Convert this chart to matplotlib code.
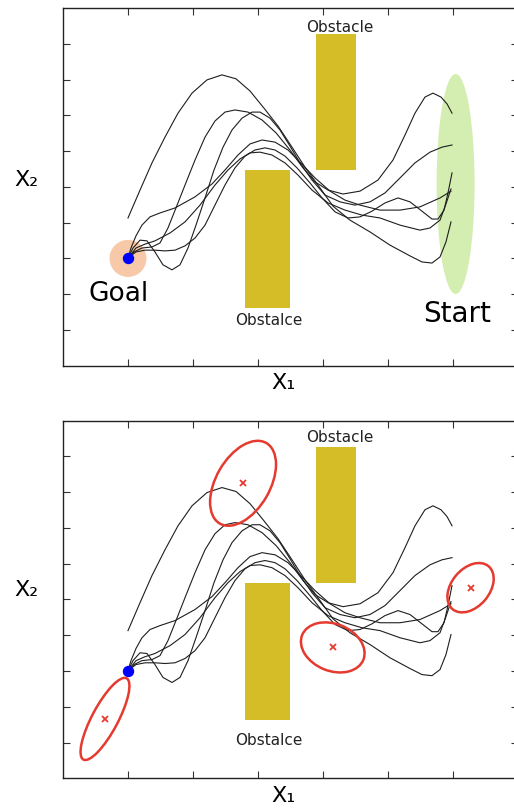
import matplotlib
matplotlib.use("Agg")
import matplotlib.pyplot as plt
from matplotlib.patches import Ellipse, Rectangle
from matplotlib.transforms import ScaledTranslation

# ---- trajectory samples (X1, X2) ----
traj_a_x = [1.0, 1.185, 1.369, 1.569, 1.769, 1.985, 2.215, 2.446, 2.662, 2.877, 3.092, 3.308, 3.523, 3.723,
            3.923, 4.154, 4.415, 4.723, 5.031, 5.338, 5.523, 5.677, 5.8, 5.892, 5.969]
traj_a_y = [4.13, 4.91, 5.67, 6.39, 7.06, 7.62, 7.99, 8.13, 8.02, 7.68, 7.20, 6.70, 6.11, 5.55,
            5.05, 4.46, 4.07, 3.74, 3.37, 3.07, 2.90, 2.87, 3.04, 3.46, 4.02]

traj_b_x = [1.0, 1.092, 1.215, 1.369, 1.492, 1.615, 1.738, 1.877, 2.031, 2.185, 2.338, 2.492, 2.646, 2.846,
            3.062, 3.277, 3.492, 3.692, 3.877, 4.077, 4.308, 4.569, 4.846, 5.077, 5.262, 5.415, 5.569,
            5.692, 5.815, 5.908, 5.985]
traj_b_y = [3.01, 3.18, 3.29, 3.32, 3.43, 3.85, 4.41, 5.05, 5.75, 6.39, 6.84, 7.09, 7.15, 7.09,
            6.87, 6.51, 6.03, 5.53, 5.14, 4.91, 4.80, 4.88, 5.19, 5.75, 6.45, 7.06, 7.51,
            7.62, 7.51, 7.32, 7.06]

traj_c_x = [1.0, 1.077, 1.185, 1.292, 1.415, 1.538, 1.677, 1.8, 1.923, 2.046, 2.185, 2.323, 2.462, 2.6,
            2.754, 2.908, 3.031, 3.185, 3.338, 3.492, 3.646, 3.831, 4.031, 4.262, 4.492, 4.723, 4.954,
            5.185, 5.415, 5.646, 5.831, 5.985]
traj_c_y = [3.01, 3.29, 3.51, 3.49, 3.18, 2.82, 2.68, 2.82, 3.29, 3.93, 4.69, 5.47, 6.11, 6.59,
            6.92, 7.09, 7.09, 6.92, 6.59, 6.14, 5.67, 5.19, 4.77, 4.58, 4.49, 4.58, 4.83,
            5.25, 5.67, 5.97, 6.11, 6.17]

traj_d_x = [1.0, 1.046, 1.123, 1.215, 1.338, 1.492, 1.723, 2.031, 2.292, 2.492, 2.692, 2.877, 3.062, 3.262,
            3.462, 3.646, 3.877, 4.108, 4.338, 4.569, 4.877, 5.185, 5.492, 5.8, 5.969]
traj_d_y = [3.01, 3.29, 3.63, 3.93, 4.16, 4.27, 4.41, 4.72, 5.08, 5.47, 5.89, 6.20, 6.31, 6.25,
            6.03, 5.69, 5.25, 4.88, 4.63, 4.49, 4.35, 4.35, 4.44, 4.69, 4.88]

traj_e_x = [1.0, 1.123, 1.262, 1.415, 1.569, 1.723, 1.877, 2.031, 2.185, 2.338, 2.492, 2.646, 2.8, 2.954,
            3.108, 3.262, 3.415, 3.6, 3.8, 3.985, 4.185, 4.385, 4.569, 4.754, 4.954, 5.154, 5.338,
            5.523, 5.677, 5.769, 5.862, 5.923, 5.985]
traj_e_y = [3.01, 3.18, 3.23, 3.23, 3.21, 3.23, 3.35, 3.57, 3.93, 4.49, 5.05, 5.53, 5.86, 6.03,
            6.09, 6.03, 5.86, 5.53, 5.11, 4.69, 4.30, 4.13, 4.16, 4.32, 4.55, 4.69, 4.58,
            4.32, 4.10, 4.10, 4.35, 4.83, 5.39]

traj_f_x = [1.0, 1.123, 1.262, 1.415, 1.646, 1.877, 2.108, 2.338, 2.538, 2.723, 2.877, 3.031, 3.215, 3.415,
            3.615, 3.831, 4.077, 4.338, 4.6, 4.877, 5.185, 5.492, 5.646, 5.8, 5.892, 5.969]
traj_f_y = [3.01, 3.29, 3.40, 3.49, 3.71, 4.02, 4.49, 5.05, 5.47, 5.78, 5.95, 5.97, 5.89, 5.67,
            5.33, 4.91, 4.55, 4.35, 4.21, 4.13, 3.93, 3.79, 3.85, 4.07, 4.52, 4.94]

trajectories = [(traj_a_x, traj_a_y), (traj_b_x, traj_b_y), (traj_c_x, traj_c_y),
                (traj_d_x, traj_d_y), (traj_e_x, traj_e_y), (traj_f_x, traj_f_y)]

# ---- scene ----
goal = (1.0, 3.0)
start_center = (6.04, 5.08)
# obstacles: (x0, y0, width, height)
obstacle_low = (2.80, 1.62, 0.69, 3.85)
obstacle_high = (3.89, 5.47, 0.62, 3.80)

# Gaussian components in the lower panel: means, (width, height in inches, angle)
gmm_mean_x = [0.646, 2.77, 4.15, 6.27]
gmm_mean_y = [1.66, 8.25, 3.66, 5.33]
gmm_shape = [(0.92, 0.26, 62), (0.93, 0.54, 60), (0.66, 0.47, -22), (0.56, 0.38, 50)]

OBST_COLOR = "#d4bd27"
LINE_COLOR = "#1e1e1e"

fig = plt.figure(figsize=(5.14, 8.09), dpi=100)
W, H = 514.0, 809.0
ax_top = fig.add_axes([63 / W, 1 - 365.7 / H, 455 / W, 357.7 / H])
ax_bot = fig.add_axes([63 / W, 1 - 778.3 / H, 455 / W, 357.6 / H])


def fixed_ellipse(ax, xy, w_in, h_in, angle, **kw):
    """Ellipse centred on a data point but sized in inches."""
    tr = fig.dpi_scale_trans + ScaledTranslation(xy[0], xy[1], ax.transData)
    e = Ellipse((0, 0), w_in, h_in, angle=angle, transform=tr, **kw)
    ax.add_patch(e)
    return e


def style_axes(ax):
    ax.set_xlim(0, 7)
    ax.set_ylim(0, 10)
    ax.set_xticks(range(1, 7))
    ax.set_yticks(range(1, 10))
    ax.tick_params(direction="in", length=5, width=0.8, color="#333333",
                   top=True, right=True, labelbottom=False, labelleft=False)
    for s in ax.spines.values():
        s.set_color("#222222")
        s.set_linewidth(1.0)


def draw_scene(ax, obst_text_y, obstalce_text_y):
    ax.add_patch(Rectangle(obstacle_low[:2], obstacle_low[2], obstacle_low[3],
                           color=OBST_COLOR, lw=0, zorder=1))
    ax.add_patch(Rectangle(obstacle_high[:2], obstacle_high[2], obstacle_high[3],
                           color=OBST_COLOR, lw=0, zorder=1))
    for tx, ty in trajectories:
        ax.plot(tx, ty, color=LINE_COLOR, lw=0.8, zorder=3)
    ax.text(4.26, obst_text_y, "Obstacle", ha="center", va="center", fontsize=11, color="#222222")
    ax.text(3.16, obstalce_text_y, "Obstalce", ha="center", va="center", fontsize=11, color="#222222")


# ---- top panel ----
style_axes(ax_top)
fixed_ellipse(ax_top, start_center, 0.38, 2.2, 0, facecolor="#d4eeb2", edgecolor="none", zorder=0.5)
fixed_ellipse(ax_top, goal, 0.37, 0.37, 0, facecolor="#f7c9a8", edgecolor="none", zorder=0.5)
draw_scene(ax_top, 9.45, 1.25)
ax_top.plot(*goal, "o", color="#0000ff", ms=7.2, zorder=5)
ax_top.text(0.86, 2.0, "Goal", ha="center", va="center", fontsize=19)
ax_top.text(6.06, 1.45, "Start", ha="center", va="center", fontsize=20)

# ---- bottom panel ----
style_axes(ax_bot)
draw_scene(ax_bot, 9.53, 1.07)
for mx, my, (w, h, ang) in zip(gmm_mean_x, gmm_mean_y, gmm_shape):
    fixed_ellipse(ax_bot, (mx, my), w, h, ang, facecolor="none", edgecolor="#e53a2f", lw=1.8, zorder=4)
ax_bot.plot(gmm_mean_x, gmm_mean_y, "x", color="#e53a2f", ms=4.5, mew=1.3, zorder=4)
ax_bot.plot(*goal, "o", color="#0000ff", ms=7.2, zorder=5)

# ---- axis labels ----
fig.text(283 / W, 1 - 383 / H, "X\u2081", ha="center", va="center", fontsize=16)
fig.text(26.5 / W, 1 - 180 / H, "X\u2082", ha="center", va="center", fontsize=16)
fig.text(283 / W, 1 - 796 / H, "X\u2081", ha="center", va="center", fontsize=16)
fig.text(26.5 / W, 1 - 590 / H, "X\u2082", ha="center", va="center", fontsize=16)

fig.savefig("out.png", dpi=100)
